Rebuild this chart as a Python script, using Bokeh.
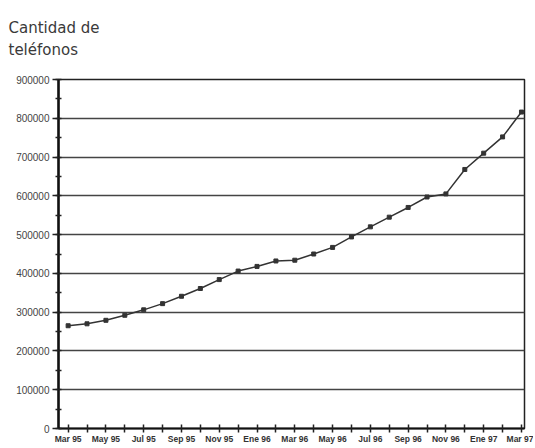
from bokeh.plotting import figure
from bokeh.models import Title, FixedTicker, SingleIntervalTicker, Range1d
from bokeh.embed import file_html
from bokeh.resources import INLINE

x_labels = ["Mar 95", "May 95", "Jul 95", "Sep 95", "Nov 95", "Ene 96", "Mar 96",
            "May 96", "Jul 96", "Sep 96", "Nov 96", "Ene 97", "Mar 97"]
months = list(range(25))
telefonos = [265000, 270000, 279000, 292000, 306000, 322000, 341000, 361000, 384000,
             406000, 418000, 432000, 434000, 450000, 467000, 494000, 520000, 545000,
             570000, 597000, 605000, 668000, 710000, 752000, 816000]
y_title_1 = "Cantidad de"
y_title_2 = "teléfonos"

p = figure(width=533, height=446, output_backend="svg", toolbar_location=None,
           x_range=Range1d(-0.51, 24.16), y_range=Range1d(0, 900000),
           min_border_left=58, min_border_right=9, min_border_top=79, min_border_bottom=8)
p.background_fill_color = "white"
p.border_fill_color = "white"
p.outline_line_color = "#222222"
p.outline_line_width = 1.5

p.line(months, telefonos, line_color="#333333", line_width=1.5)
p.scatter(months, telefonos, marker="square", size=4, fill_color="#333333", line_color="#333333")

p.xgrid.visible = False
p.ygrid.grid_line_color = "#444444"
p.ygrid.grid_line_width = 1.5

xa = p.xaxis[0]
xa.ticker = FixedTicker(ticks=months)
xa.major_label_overrides = {i: (x_labels[i // 2] if i % 2 == 0 else "") for i in months}
xa.major_label_text_font = "Liberation Sans"
xa.major_label_text_font_size = "8.5px"
xa.major_label_text_font_style = "bold"
xa.major_label_text_color = "#333333"
xa.major_label_standoff = 1
xa.major_tick_in = 4
xa.major_tick_out = 4
xa.major_tick_line_color = "#222222"
xa.major_tick_line_width = 1.5
xa.minor_tick_line_color = None
xa.axis_line_color = "#111111"
xa.axis_line_width = 2

ya = p.yaxis[0]
ya.ticker = SingleIntervalTicker(interval=100000, num_minor_ticks=2)
ya.formatter.use_scientific = False
ya.major_label_text_font = "Liberation Sans"
ya.major_label_text_font_size = "10px"
ya.major_label_text_color = "#444444"
ya.major_label_standoff = 3
ya.major_tick_in = 0
ya.major_tick_out = 6
ya.major_tick_line_color = "#222222"
ya.major_tick_line_width = 1.5
ya.minor_tick_in = 3
ya.minor_tick_out = 3
ya.minor_tick_line_color = "#222222"
ya.minor_tick_line_width = 1.5
ya.axis_line_color = "#111111"
ya.axis_line_width = 2.5

p.add_layout(Title(text=y_title_1 + "\n" + y_title_2, align="left", offset=-50, standoff=36,
                   vertical_align="top",
                   text_font="DejaVu Sans", text_font_size="15px", text_font_style="normal",
                   text_line_height=1.25, text_color="#3a3a3a"), "above")

open("out.html", "w").write(file_html(p, INLINE))
